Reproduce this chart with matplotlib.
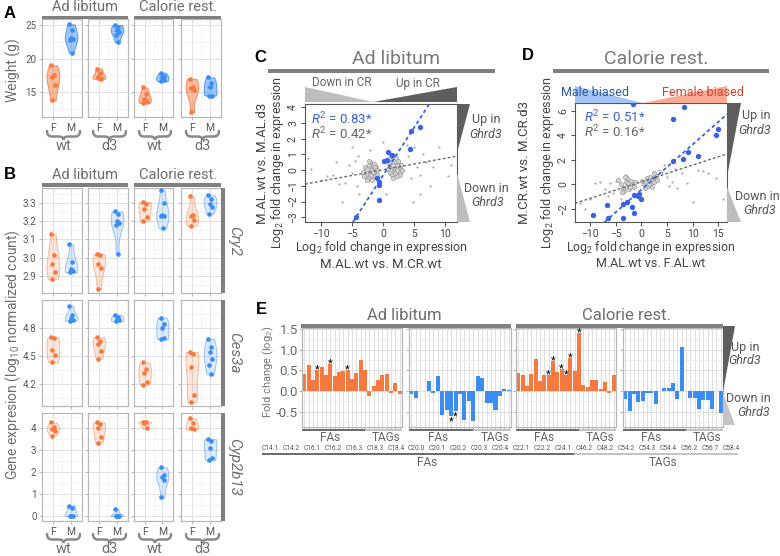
import numpy as np
import matplotlib.pyplot as plt
from matplotlib.path import Path
from matplotlib.patches import PathPatch, Polygon, Rectangle
from matplotlib.colors import to_rgba

W, H = 780, 556
plt.rcParams['font.family'] = ['Roboto', 'DejaVu Sans']
plt.rcParams['mathtext.fontset'] = 'custom'
plt.rcParams['mathtext.rm'] = 'Roboto'
plt.rcParams['mathtext.it'] = 'Roboto:italic'

# ---------------- data ----------------
groups = ['wt', 'd3', 'wt', 'd3']
diets = ['Ad libitum', 'Calorie rest.']
sexes = ['F', 'M']

# A: body weight, panels = AL wt, AL d3, CR wt, CR d3
weight_F = [[19.0, 17.5, 17.2, 16.1, 13.8], [18.5, 17.9, 17.2, 17.0, 17.1],
            [15.7, 14.7, 14.0, 13.6, 13.4], [17.0, 15.7, 15.6, 15.3, 12.0]]
weight_M = [[25.1, 24.3, 23.1, 22.9, 22.8, 20.9], [25.0, 24.7, 24.2, 24.0, 23.5, 22.4],
            [17.9, 17.4, 17.2, 16.8, 16.6], [17.2, 16.3, 15.7, 14.5, 14.5]]

# B: gene expression
genes = ['Cry2', 'Ces3a', 'Cyp2b13']
cry2_F = [[3.13, 3.016, 2.966, 2.922, 2.882], [3.019, 3.013, 2.966, 2.946, 2.83],
          [3.305, 3.294, 3.267, 3.221, 3.2], [3.337, 3.232, 3.227, 3.205, 3.175]]
cry2_M = [[3.074, 2.979, 2.939, 2.93, 2.92], [3.254, 3.24, 3.2, 3.19, 3.18, 3.02],
          [3.37, 3.3, 3.236, 3.23, 3.227, 3.162], [3.342, 3.324, 3.294, 3.28, 3.24]]
ces3a_F = [[4.70, 4.69, 4.56, 4.51, 4.43], [4.70, 4.66, 4.63, 4.55, 4.47],
           [4.43, 4.36, 4.32, 4.22, 4.19], [4.54, 4.52, 4.38, 4.08, 4.00]]
ces3a_M = [[5.04, 4.94, 4.91, 4.89, 4.875], [4.94, 4.92, 4.90, 4.88, 4.87],
           [4.91, 4.84, 4.80, 4.69, 4.68], [4.68, 4.59, 4.54, 4.47, 4.40, 4.30]]
cyp_F = [[4.27, 4.08, 3.97, 3.89, 3.67], [4.27, 4.20, 4.03, 3.62, 3.35],
         [4.30, 4.28, 4.26, 4.00], [4.46, 4.23, 4.00, 3.95]]
cyp_M = [[0.47, 0.35, 0.02, 0.0, 0.0], [0.32, 0.02, 0.0, 0.0, 0.01],
         [2.22, 1.87, 1.80, 1.64, 0.85], [3.50, 3.42, 3.12, 2.66, 2.56]]

# C: M.AL.wt vs M.CR.wt (x) against M.AL.wt vs M.AL.d3 (y)
c_blue_x = [-4.3, -0.6, -0.6, -0.7, -0.95, 0.2, 0.6, 0.9, 1.4, 4.4, 4.5, 5.9]
c_blue_y = [-3.0, -1.9, -0.95, -0.75, -0.5, 0.58, 0.65, 1.17, 0.96, 1.34, 2.49, 2.77]
c_dense_x = [-3.2, -2.9, -2.7, -2.5, -2.4, -2.2, -2.1, -2.0, -1.9, -1.8, -1.7, -1.6, -1.5,
             -1.4, -1.3, -1.2, -1.1, -1.0, -2.6, -2.3, -1.9, -1.6, -1.3, -3.0, -0.9,
             0.9, 1.1, 1.2, 1.4, 1.5, 1.6, 1.8, 1.9, 2.0, 2.1, 2.2, 2.3, 2.4, 2.6, 2.7,
             2.9, 3.1, 1.3, 1.7, 2.0, 2.5, 2.8, 1.0, 1.6, 2.2]
c_dense_y = [-0.1, 0.2, -0.3, 0.1, -0.5, 0.3, -0.1, 0.5, -0.3, 0.1, -0.6, 0.3, -0.2,
             0.4, -0.4, 0.0, 0.2, -0.3, -0.6, 0.6, 0.0, -0.1, 0.2, -0.4, 0.0,
             0.1, -0.2, 0.5, 0.2, -0.3, 0.7, 0.0, 0.4, -0.2, 0.8, 0.3, -0.4, 0.5, 0.1, -0.1,
             0.3, 0.0, 0.9, -0.5, 0.1, 0.6, -0.3, 0.4, 0.3, 0.0]
c_sparse_x = [-11.5, -8, -7.5, -6, -5.5, -5, -4.5, -4.2, -6.5, -7, -9, -4, -3.8, -5, 4, 4.5,
              5, 5.5, 6, 6.5, 7, 7.5, 8, 9, 10.5, 11, 4.8, 3.8, 6, -2, 0, 0.5, -10, -12]
c_sparse_y = [0.1, -0.3, 0.5, -0.8, 0.3, -0.2, 0.6, -1.0, -2.0, -0.9, -0.4, 0.9, -1.5, 1.5,
              0.9, -0.5, 1.5, 0.2, -0.3, 1.0, 0.5, -1.0, 0.2, 1.5, -0.4, 0.3, -2.0, 1.6,
              -1.5, 1.3, 1.8, -1.5, -0.6, 0.8]
c_fit_blue = (0.613, -0.36)   # slope, intercept
c_fit_grey = (0.073, 0.025)
c_r2 = ['0.83*', '0.42*']

# D: M.AL.wt vs F.AL.wt (x) against M.CR.wt vs M.CR.d3 (y)
d_blue_x = [-9.36, -6.75, -6.55, -3.63, -3.63, -2.73, -1.81, -1.42, -1.42, -0.7, -0.06,
            -0.5, -1.68, 6.12, 8.38, 6.1, 8.19, 9.04, 11.1, 14.5, 14.95]
d_blue_y = [-2.49, -1.67, -2.71, -2.71, -1.62, -1.4, -1.81, -2.35, -0.86, -0.94, -1.21,
            -0.78, 6.57, 5.37, 6.3, 1.94, 2.1, 2.68, 2.33, 4.04, 4.5]
d_dense_x = [-4.0, -3.5, -3.0, -2.8, -2.5, -2.3, -2.0, -1.8, -3.3, -4.5, -1.5, -2.7,
             -3.8, -2.2, -1.2, -3.1, 0.5, 1.0, 1.3, 1.6, 1.9, 2.2, 2.5, 2.8, 1.2, 3.0,
             0.8, 2.0, 1.5, 2.4, 0.2, 1.8]
d_dense_y = [0.0, -0.3, 0.2, -0.1, 0.1, -0.4, 0.3, 0.0, -0.5, 0.4, -0.2, 0.5,
             -0.6, -0.2, 0.2, 0.6, 0.0, 0.2, -0.1, 0.3, 0.1, 0.5, 0.2, 0.7, 0.5, 0.4,
             -0.3, -0.2, 0.0, 0.9, 0.3, 0.6]
d_sparse_x = [-12, -11, -10, -8, -7, -6, -5.5, -5, -9, -6.5, -4, -3, 4, 5, 6, 7, 8, 9, 10,
              11, 12, 13, 14.5, 16, 4.5, 3.5, 6.5, 5.5]
d_sparse_y = [-1.5, -2.0, -1.2, 0.2, -0.4, 0.1, -0.7, 0.3, 0.1, -0.9, -1.2, 0.8, 1.0,
              0.6, 0.2, -0.3, 0.9, 0.1, -1.4, 1.2, 1.1, 0.9, 0.5, -1.2, 1.6, 1.2, 1.3, -0.1]
d_fit_blue = (0.369, -0.43)
d_fit_grey = (0.136, 0.22)
d_r2 = ['0.51*', '0.16*']

# E: lipid fold changes
compounds = ['C14.1', 'C14.2', 'C16.1', 'C16.2', 'C16.3', 'C18.3', 'C18.4', 'C20.0',
             'C20.1', 'C20.2', 'C20.3', 'C20.4', 'C22.1', 'C22.2', 'C24.1', 'C46.2',
             'C48.2', 'C54.2', 'C54.3', 'C54.4', 'C56.2', 'C56.7', 'C58.4']
fc_AL_F = [0.42, 0.62, 0.27, 0.50, 0.57, 0.39, 0.65, 0.35, 0.46, 0.48, 0.51, 0.29, 0.44,
           0.74, 0.50, -0.13, 0.12, 0.26, 0.38, 0.40, -0.04, 0.20, -0.08]
fc_AL_M = [-0.08, -0.16, 0.01, 0.01, 0.25, -0.06, 0.35, -0.58, -0.45, -0.60, -0.48, -0.08,
           -0.70, -0.25, -0.73, 0.35, 0.31, -0.30, -0.29, -0.45, -0.11, 0.04, 0.02]
fc_CR_F = [0.44, 0.38, 0.13, 0.42, 0.77, 0.24, 0.39, 0.39, 0.73, 0.46, 0.53, 0.38, 0.80,
           0.48, 1.41, 0.15, 0.10, 0.27, 0.27, 0.05, 0.21, -0.05, 0.38]
fc_CR_M = [-0.20, -0.48, -0.08, -0.27, -0.24, -0.04, -0.06, -0.31, 0.0, 0.08, 0.08, 0.20,
           -0.19, 1.07, 0.0, -0.16, -0.16, -0.44, -0.22, -0.22, -0.44, 0.0, -0.54]
stars_AL_F = [3, 6, 10]
stars_AL_M = [9, 10]
stars_CR_F = [7, 8, 10, 11, 12, 14]
stars_CR_M = []
n_fa = 15

# ---------------- style ----------------
orange = '#F7793F'
blue = '#3C8DF3'
cblue = '#3A62E2'
strip = '#808080'
txt = '#6e6e6e'
jit = [-0.10, 0.07, -0.03, 0.11, -0.07, 0.03]

fig = plt.figure(figsize=(W / 100, H / 100), dpi=100)


def axpx(x0, y0, x1, y1):
    return fig.add_axes([x0 / W, 1 - y1 / H, (x1 - x0) / W, (y1 - y0) / H])


def tpx(x, y, s, **kw):
    kw.setdefault('ha', 'center')
    kw.setdefault('va', 'center')
    return fig.text(x / W, 1 - y / H, s, **kw)


def rectpx(x0, y0, x1, y1, color):
    fig.add_artist(Rectangle((x0 / W, 1 - y1 / H), (x1 - x0) / W, (y1 - y0) / H,
                             transform=fig.transFigure, color=color, lw=0))


def polypx(pts, color):
    fig.add_artist(Polygon([(x / W, 1 - y / H) for x, y in pts], closed=True,
                           transform=fig.transFigure, color=color, lw=0))


def brace(x0, x1, y0, ym, y1, r=5):
    xm = (x0 + x1) / 2
    pts = [(x0, y0), (x0, ym), (x0 + r, ym), (xm - r, ym), (xm, ym), (xm, y1),
           (xm, ym), (xm + r, ym), (x1 - r, ym), (x1, ym), (x1, y0)]
    codes = [Path.MOVETO, Path.CURVE3, Path.CURVE3, Path.LINETO, Path.CURVE3, Path.CURVE3,
             Path.CURVE3, Path.CURVE3, Path.LINETO, Path.CURVE3, Path.CURVE3]
    p = Path([(x / W, 1 - y / H) for x, y in pts], codes)
    fig.add_artist(PathPatch(p, transform=fig.transFigure, fc='none', ec='#8a8a8a', lw=1.8,
                             capstyle='round'))


def violins(ax, fv, mv, alpha, med):
    for pos, vals, col in ((1, fv, orange), (2, mv, blue)):
        vp = ax.violinplot(vals, positions=[pos], widths=0.7, showextrema=False,
                           showmedians=med)
        b = vp['bodies'][0]
        b.set_facecolor(to_rgba(col, alpha))
        b.set_edgecolor(to_rgba(col, min(1, alpha + 0.3)))
        b.set_linewidth(0.7)
        b.set_alpha(None)
        if med:
            vp['cmedians'].set_color(col)
            vp['cmedians'].set_linewidth(0.8)
        ax.scatter(1.0 * pos + np.array(jit[:len(vals)]), vals, s=11, color=col, lw=0, zorder=3)


def gg_style(ax, ylim, yt, ymin, ylabels, xlabels):
    ax.set_xlim(0.4, 2.6)
    ax.set_ylim(ylim)
    ax.set_yticks(yt)
    ax.set_yticks(ymin, minor=True)
    ax.set_xticks([1, 2])
    ax.set_xticks([1.5], minor=True)
    ax.grid(True, which='major', color='#e2e2e2', lw=0.8)
    ax.grid(True, which='minor', color='#f0f0f0', lw=0.5)
    ax.set_axisbelow(True)
    for s in ax.spines.values():
        s.set_color('#b8b8b8')
        s.set_linewidth(0.9)
    ax.tick_params(which='major', length=2, color='#b8b8b8', labelsize=7, labelcolor='#555555',
                   pad=2)
    ax.tick_params(which='minor', length=0)
    if ylabels:
        ax.set_yticklabels([('%g' % v) if isinstance(v, int) else ('%.1f' % v) for v in yt])
    else:
        ax.set_yticklabels([])
    if xlabels:
        ax.set_xticklabels(sexes, fontsize=7.5)
    else:
        ax.set_xticklabels([])


xcols = [(42, 82), (88, 128), (134, 173), (181, 221)]

# ---------------- A ----------------
tpx(10, 13, 'A', fontsize=12, fontweight='bold', family='Liberation Sans')
tpx(85, 7, diets[0], fontsize=10.5, color=txt)
tpx(178, 7, diets[1], fontsize=10.5, color=txt)
rectpx(42, 15.5, 128, 19, strip)
rectpx(134, 15.5, 221, 19, strip)
for i, (x0, x1) in enumerate(xcols):
    ax = axpx(x0, 19, x1, 117)
    violins(ax, weight_F[i], weight_M[i], 0.5, True)
    gg_style(ax, (11.3, 25.9), [15, 20, 25], [12.5, 17.5, 22.5], i == 0, True)
    brace(x0 + 5, x1 - 2, 131, 136.5, 140)
    tpx((x0 + x1) / 2 + 1.5, 146, groups[i], fontsize=10.5, color=txt)
tpx(13, 70, 'Weight (g)', fontsize=10, color=txt, rotation=90)

# ---------------- B ----------------
tpx(10, 174, 'B', fontsize=12, fontweight='bold', family='Liberation Sans')
tpx(85, 175, diets[0], fontsize=10.5, color=txt)
tpx(178, 175, diets[1], fontsize=10.5, color=txt)
rectpx(42, 183, 128, 187, strip)
rectpx(134, 183, 221, 187, strip)
rows = [(188, 293), (300, 406), (413, 521)]
row_data = [(cry2_F, cry2_M, (2.807, 3.382), [2.9, 3.0, 3.1, 3.2, 3.3],
             [2.85, 2.95, 3.05, 3.15, 3.25, 3.35]),
            (ces3a_F, ces3a_M, (3.96, 5.10), [4.2, 4.5, 4.8], [4.05, 4.35, 4.65, 4.95]),
            (cyp_F, cyp_M, (-0.23, 4.70), [0, 1, 2, 3, 4], [0.5, 1.5, 2.5, 3.5, 4.5])]
for r, (y0, y1) in enumerate(rows):
    fv, mv, yl, yt, ym = row_data[r]
    for i, (x0, x1) in enumerate(xcols):
        ax = axpx(x0, y0, x1, y1)
        violins(ax, fv[i], mv[i], 0.18, False)
        gg_style(ax, yl, yt, ym, i == 0, r == 2)
    rectpx(221, y0, 224.5, y1, strip)
    tpx(234, (y0 + y1) / 2, genes[r], fontsize=11, color=txt, style='italic', rotation=-90)
for i, (x0, x1) in enumerate(xcols):
    brace(x0 + 5, x1 - 2, 534, 539.5, 543)
    tpx((x0 + x1) / 2 + 1.5, 549, groups[i], fontsize=10.5, color=txt)
tpx(13, 355, 'Gene expresion (log$_{10}$ normalized count)', fontsize=10, color=txt,
    rotation=90)


# ---------------- C / D ----------------
def scatter_panel(ax, dx, dy, sx, sy, bx, by, fb, fg, xl, yl, xt, yt, r2, tx, ty):
    ax.scatter(sx, sy, s=2.5, color='#a8a8a8', lw=0)
    ax.scatter(dx, dy, s=9, facecolors='#d4d4d4', edgecolors='#9a9a9a', lw=0.5)
    ax.axline((0, fg[1]), slope=fg[0], color='#6a6a6a', ls=(0, (2, 1.6)), lw=1)
    ax.axline((0, fb[1]), slope=fb[0], color=cblue, ls=(0, (2, 1.6)), lw=1.3)
    ax.scatter(bx, by, s=15, color=cblue, lw=0, zorder=3)
    ax.set_xlim(xl)
    ax.set_ylim(yl)
    ax.set_xticks(xt)
    ax.set_yticks(yt)
    for s in ax.spines.values():
        s.set_color('#555555')
        s.set_linewidth(0.8)
    ax.tick_params(length=3, color='#555555', labelsize=7.5, labelcolor='#444444', pad=2)
    ax.tick_params(axis='y', labelrotation=90)
    for lab in ax.get_yticklabels():
        lab.set_va('center')
    tpx(tx, ty, '$R^2$ = ' + r2[0], fontsize=9.5, color=cblue, ha='left')
    tpx(tx, ty + 15, '$R^2$ = ' + r2[1], fontsize=9.5, color='#666666', ha='left')


tpx(260, 57, 'C', fontsize=12, fontweight='bold', family='Liberation Sans')
tpx(396, 59, diets[0], fontsize=14, color='#7a7a7a')
rectpx(268, 69, 495, 73, strip)
axc = axpx(305, 104, 457, 222)
scatter_panel(axc, c_dense_x, c_dense_y, c_sparse_x, c_sparse_y, c_blue_x, c_blue_y,
              c_fit_blue, c_fit_grey, (-12.5, 11.9), (-3.3, 4.21), [-10, -5, 0, 5, 10],
              range(-3, 5), c_r2, 311, 119)
polypx([(305, 87), (305, 102), (373, 102)], '#bdbdbd')
polypx([(373, 102), (457, 87), (457, 102)], '#5e5e5e')
tpx(342, 83, 'Down in CR', fontsize=8.5, color='#666666')
tpx(418, 83, 'Up in CR', fontsize=8.5, color='#666666')
polypx([(457, 104), (470, 104), (457, 153)], '#5e5e5e')
polypx([(457, 173), (457, 222), (470, 222)], '#bdbdbd')
tpx(486, 120, 'Up in', fontsize=9, color='#555555')
tpx(486, 135, 'Ghrd3', fontsize=9, color='#555555', style='italic')
tpx(486, 189, 'Down in', fontsize=9, color='#555555')
tpx(488, 203, 'Ghrd3', fontsize=9, color='#555555', style='italic')
tpx(263, 163, 'M.AL.wt vs. M.AL.d3', fontsize=9.5, color='#444444', rotation=90)
tpx(278, 163, 'Log$_2$ fold change in expression', fontsize=9, color='#444444', rotation=90)
tpx(381, 248, 'Log$_2$ fold change in expression', fontsize=9, color='#444444')
tpx(381, 265, 'M.AL.wt vs. M.CR.wt', fontsize=9.5, color='#444444')

tpx(528, 56, 'D', fontsize=12, fontweight='bold', family='Liberation Sans')
tpx(656, 59, diets[1], fontsize=14, color='#7a7a7a')
rectpx(553, 68.5, 769, 73, strip)
axd = axpx(575, 103, 727, 222)
scatter_panel(axd, d_dense_x, d_dense_y, d_sparse_x, d_sparse_y, d_blue_x, d_blue_y,
              d_fit_blue, d_fit_grey, (-12.9, 16.7), (-3.06, 6.65), [-10, -5, 0, 5, 10, 15],
              [-2, 0, 2, 4, 6], d_r2, 584, 117)
polypx([(575, 86), (575, 103), (643, 103)], '#a3c4f3')
polypx([(643, 103), (727, 86), (727, 103)], '#f8ab93')
tpx(595, 92, 'Male biased', fontsize=9, color='#2c5aa8')
tpx(703, 92, 'Female biased', fontsize=9, color='#d8412f')
polypx([(727, 103), (741, 103), (727, 177)], '#5e5e5e')
polypx([(727, 187), (727, 222), (741, 222)], '#bdbdbd')
tpx(756, 116, 'Up in', fontsize=9, color='#555555')
tpx(755, 130, 'Ghrd3', fontsize=9, color='#555555', style='italic')
tpx(757, 196, 'Down in', fontsize=9, color='#555555')
tpx(760, 210, 'Ghrd3', fontsize=9, color='#555555', style='italic')
tpx(525, 163, 'M.CR.wt vs. M.CR.d3', fontsize=9.5, color='#444444', rotation=90)
tpx(547, 163, 'Log$_2$ fold change in expression', fontsize=9, color='#444444', rotation=90)
tpx(651, 248, 'Log$_2$ fold change in expression', fontsize=8.8, color='#444444')
tpx(651, 263.5, 'M.AL.wt vs. F.AL.wt', fontsize=9, color='#444444')


# ---------------- E ----------------
def bar_panel(ax, vals, col, stars, show_y):
    x = np.arange(len(vals))
    ax.bar(x, vals, width=0.92, color=col, zorder=2)
    for i in stars:
        v = vals[i]
        base = v - 0.06 if v >= 0 else v - 0.21
        ax.text(i, base, '*', ha='center', va='baseline', fontsize=8, zorder=3)
    ax.set_xlim(-0.5, len(vals) - 0.5)
    ax.set_ylim(-0.87, 1.52)
    ax.set_xticks(x)
    ax.set_xticklabels([])
    ax.set_yticks([-0.5, 0, 0.5, 1.0, 1.5])
    ax.set_yticks([-0.75, -0.25, 0.25, 0.75, 1.25], minor=True)
    ax.grid(True, which='major', color='#dedede', lw=0.7)
    ax.grid(True, which='minor', axis='y', color='#ececec', lw=0.5)
    ax.set_axisbelow(True)
    for s in ax.spines.values():
        s.set_color('#b8b8b8')
        s.set_linewidth(0.9)
    ax.tick_params(which='major', length=2, color='#b8b8b8', labelsize=9.5, labelcolor='#666666',
                   pad=1)
    ax.tick_params(which='minor', length=0)
    if show_y:
        ax.set_yticklabels(['-0.5', '0.0', '0.5', '1.0', '1.5'])
    else:
        ax.set_yticklabels([])
    tr = ax.get_xaxis_transform()
    ax.add_patch(Rectangle((-0.5, -0.045), n_fa - 0.5, 0.022, transform=tr, color='#6e6e6e',
                           lw=0, clip_on=False))
    ax.add_patch(Rectangle((n_fa - 1.0, -0.045), len(vals) - n_fa + 0.5, 0.022, transform=tr,
                           color='#c4c4c4', lw=0, clip_on=False))
    ax.text(n_fa / 2 - 1.5, -0.11, 'FAs', transform=tr, ha='center', va='center',
            fontsize=8.5, color='#666666')
    ax.text(n_fa + 3.8, -0.11, 'TAGs', transform=tr, ha='center', va='center',
            fontsize=8.5, color='#666666')


tpx(261, 309, 'E', fontsize=12, fontweight='bold', family='Liberation Sans')
tpx(404, 315, diets[0], fontsize=12, color=txt)
tpx(626, 315, diets[1], fontsize=12, color=txt)
rectpx(301, 324, 511, 328, strip)
rectpx(516, 324, 723, 328, strip)
ecols = [(302, 402), (409, 511), (516, 616), (623, 723)]
e_vals = [fc_AL_F, fc_AL_M, fc_CR_F, fc_CR_M]
e_cols = [orange, blue, orange, blue]
e_stars = [stars_AL_F, stars_AL_M, stars_CR_F, stars_CR_M]
for i, (x0, x1) in enumerate(ecols):
    ax = axpx(x0, 328, x1, 427)
    bar_panel(ax, e_vals[i], e_cols[i], e_stars[i], i == 0)
tpx(268, 372, 'Fold change (log$_2$)', fontsize=8, color='#777777', rotation=90)
polypx([(723, 326), (735, 326), (723, 392)], '#5e5e5e')
polypx([(723, 393), (723, 425), (735, 425)], '#c4c4c4')
tpx(745, 347, 'Up in', fontsize=9, color='#555555')
tpx(745, 361, 'Ghrd3', fontsize=9, color='#555555', style='italic')
tpx(748, 399, 'Down in', fontsize=9, color='#555555')
tpx(754, 413, 'Ghrd3', fontsize=9, color='#555555', style='italic')

for k, name in enumerate(compounds):
    tpx(270 + k * (731 - 270) / (len(compounds) - 1), 448, name, fontsize=4.8, color='#555555')
split = 270 + (n_fa - 0.5) * (731 - 270) / (len(compounds) - 1)
rectpx(262, 453, split, 455, '#6e6e6e')
rectpx(split, 453, 738, 455, '#c4c4c4')
tpx(427, 463, 'FAs', fontsize=8.5, color='#666666')
tpx(663, 463, 'TAGs', fontsize=8.5, color='#666666')

fig.savefig('out.png', dpi=100)
